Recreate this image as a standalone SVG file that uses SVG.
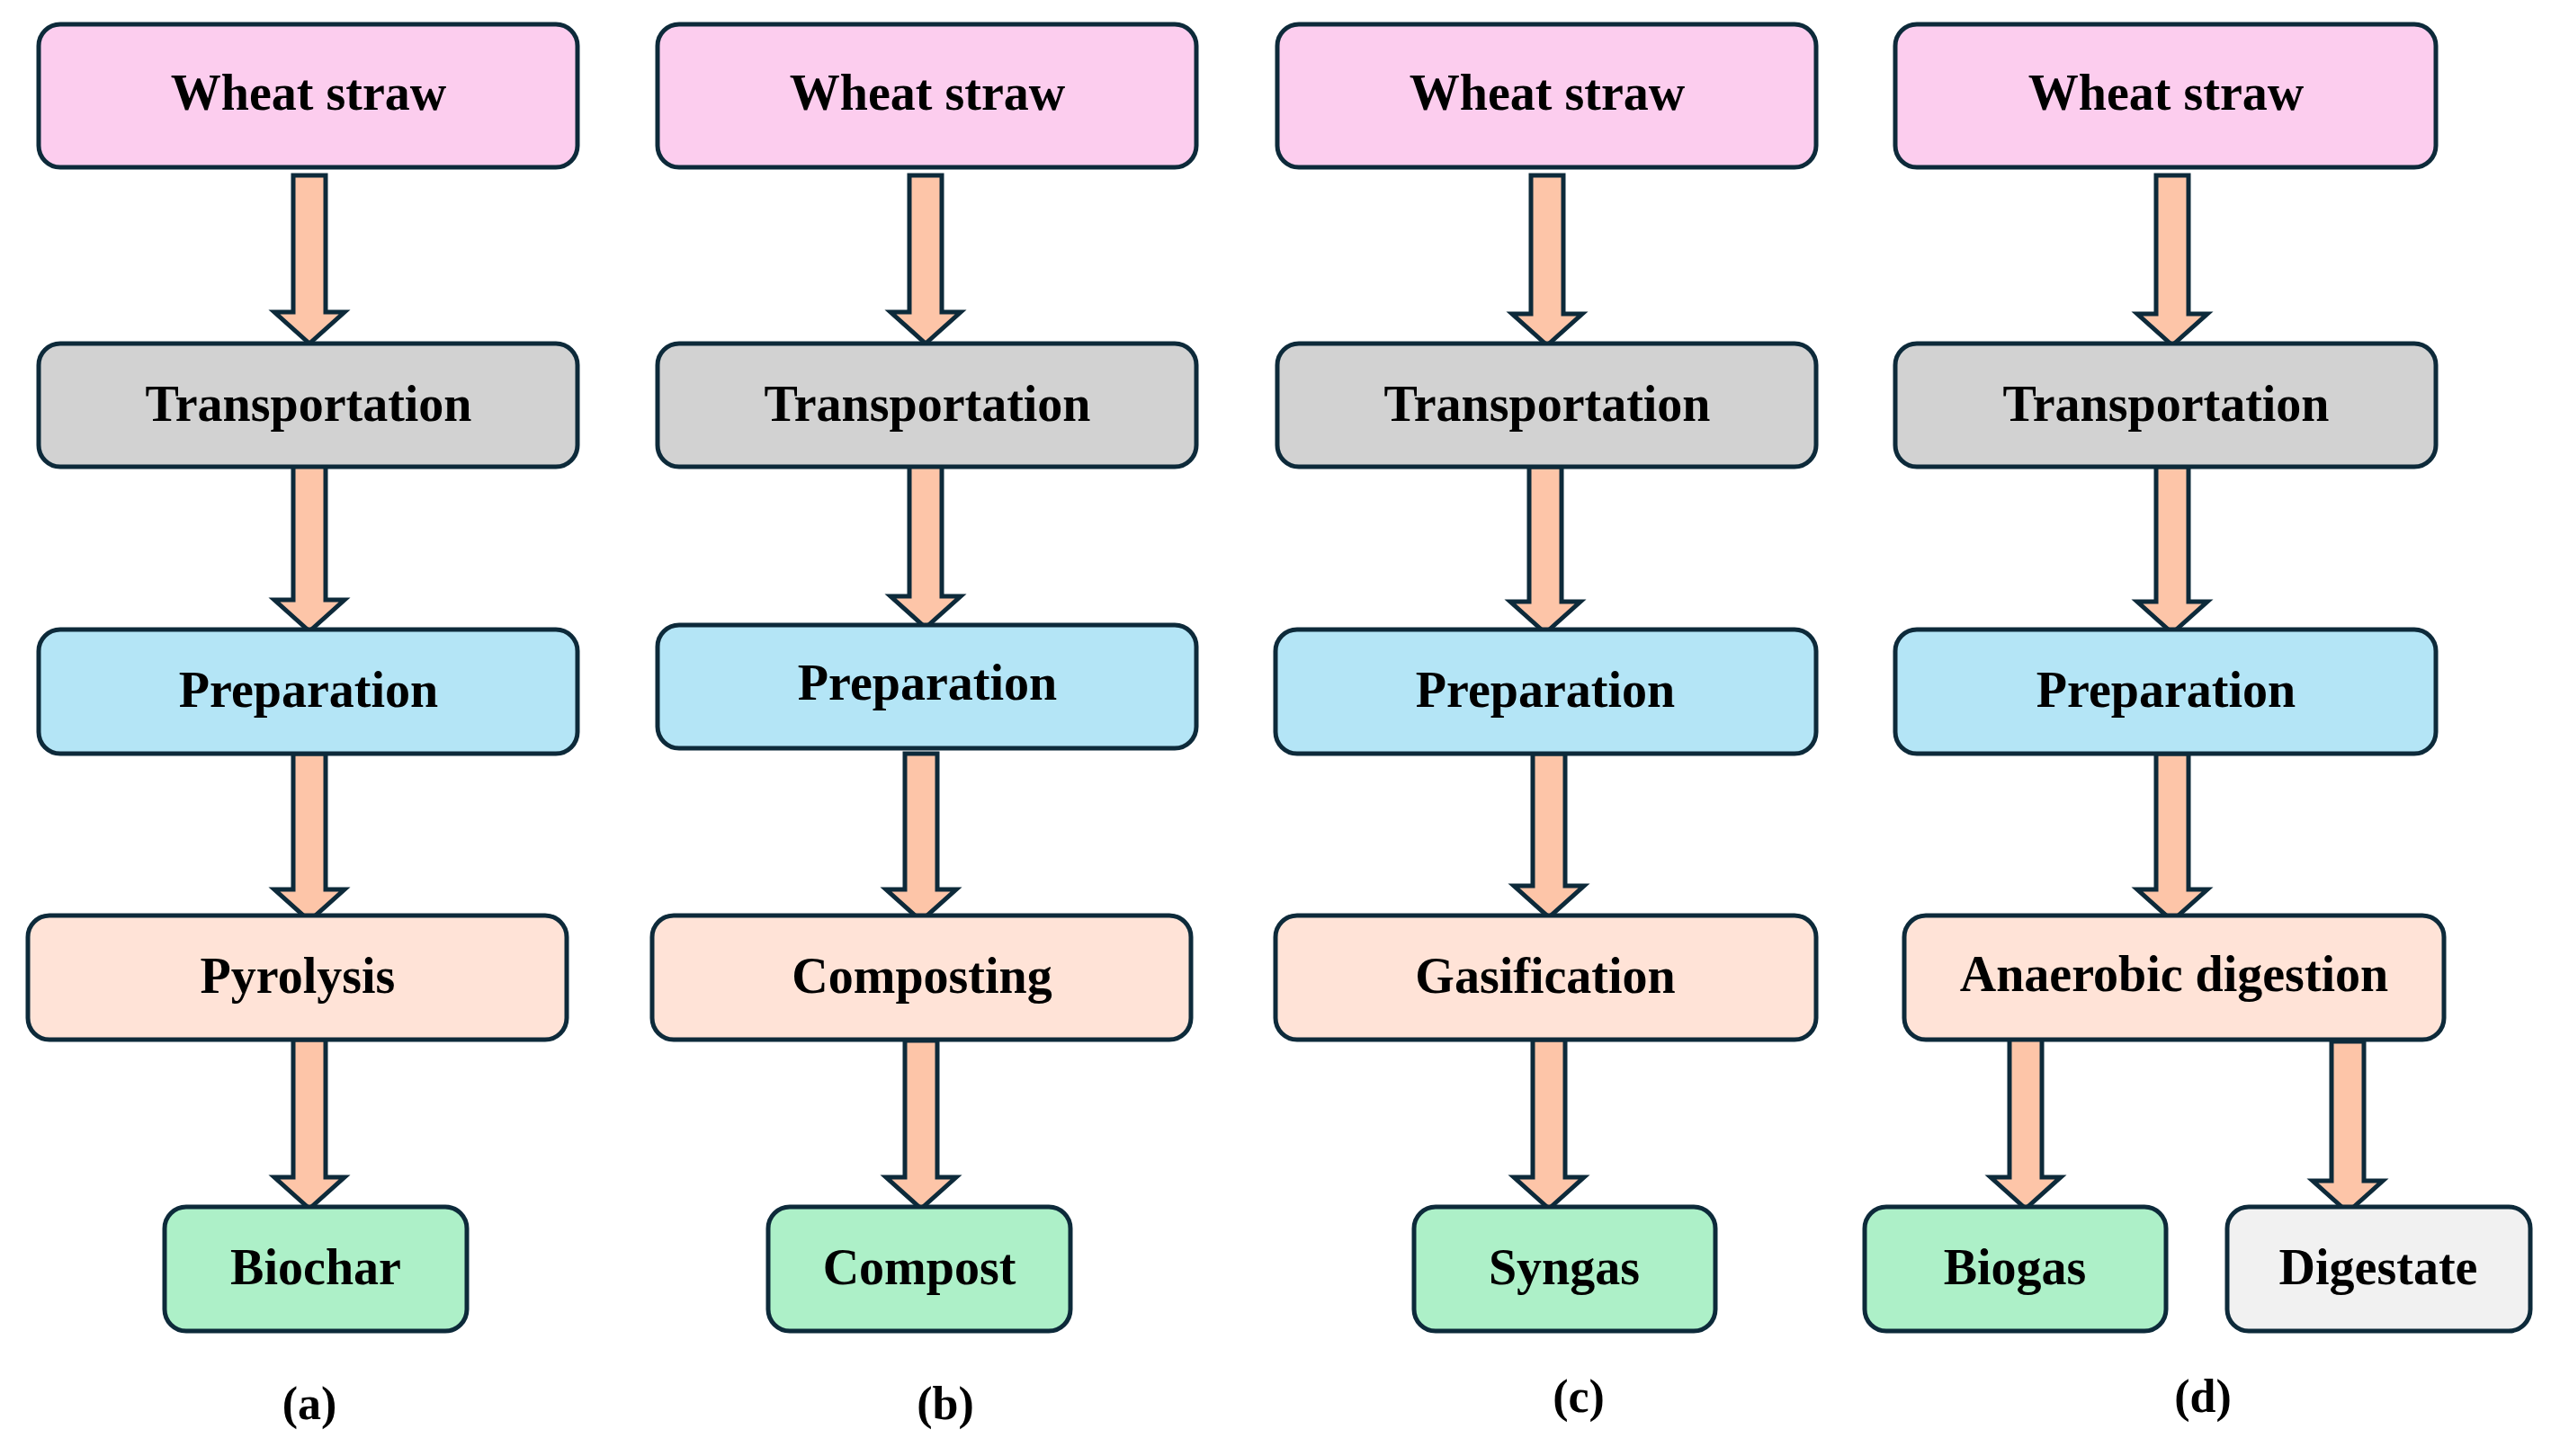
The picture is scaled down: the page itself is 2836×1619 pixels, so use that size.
<svg xmlns="http://www.w3.org/2000/svg" width="2836" height="1619" viewBox="0 0 2836 1619">
<style>
.b{stroke:#0d2a3a;stroke-width:5}
.w{fill:#fccdee}.t{fill:#d2d2d2}.p{fill:#b4e5f6}.o{fill:#ffe3d7}.g{fill:#adf0c8}.d{fill:#f1f1f1}
text{font-family:"Liberation Serif","Times New Roman",serif;font-weight:bold;font-size:56px;text-anchor:middle;fill:#000}
.lab{font-size:52px}
.ar{fill:#fdc5a8;stroke:#0d2a3a;stroke-width:5;stroke-linejoin:miter}
</style>
<g id="connectors">
<path class="ar" d="M326,195H362V347H383L344,382L305,347H326Z"/>
<path class="ar" d="M326,516H362V667H383L344,702L305,667H326Z"/>
<path class="ar" d="M326,838H362V989H383L344,1024L305,989H326Z"/>
<path class="ar" d="M326,1156H362V1309H383L344,1344L305,1309H326Z"/>
<path class="ar" d="M1011,195H1047V347H1068L1029,382L990,347H1011Z"/>
<path class="ar" d="M1011,516H1047V663H1068L1029,698L990,663H1011Z"/>
<path class="ar" d="M1006,838H1042V989H1063L1024,1024L985,989H1006Z"/>
<path class="ar" d="M1006,1157H1042V1309H1063L1024,1344L985,1309H1006Z"/>
<path class="ar" d="M1702,195H1738V349H1759L1720,384L1681,349H1702Z"/>
<path class="ar" d="M1700,519H1736V669H1757L1718,704L1679,669H1700Z"/>
<path class="ar" d="M1704,838H1740V985H1761L1722,1020L1683,985H1704Z"/>
<path class="ar" d="M1704,1156H1740V1309H1761L1722,1344L1683,1309H1704Z"/>
<path class="ar" d="M2397,195H2433V349H2454L2415,384L2376,349H2397Z"/>
<path class="ar" d="M2397,519H2433V669H2454L2415,704L2376,669H2397Z"/>
<path class="ar" d="M2397,838H2433V989H2454L2415,1024L2376,989H2397Z"/>
<path class="ar" d="M2234,1152H2270V1309H2291L2252,1344L2213,1309H2234Z"/>
<path class="ar" d="M2592,1158H2628V1313H2649L2610,1348L2571,1313H2592Z"/>
</g>
<g id="a_wheat"><rect class="b w" x="43" y="27" width="599" height="159" rx="24"/><text x="343" y="122">Wheat straw</text></g>
<g id="a_transport"><rect class="b t" x="43" y="382" width="599" height="137" rx="24"/><text x="343" y="468">Transportation</text></g>
<g id="a_prep"><rect class="b p" x="43" y="700" width="599" height="138" rx="24"/><text x="343" y="786">Preparation</text></g>
<g id="a_pyro"><rect class="b o" x="31" y="1018" width="599" height="138" rx="24"/><text x="331" y="1104">Pyrolysis</text></g>
<g id="a_biochar"><rect class="b g" x="183" y="1342" width="336" height="138" rx="24"/><text x="351" y="1428">Biochar</text></g>
<text class="lab" x="344" y="1578">(a)</text>

<g id="b_wheat"><rect class="b w" x="731" y="27" width="599" height="159" rx="24"/><text x="1031" y="122">Wheat straw</text></g>
<g id="b_transport"><rect class="b t" x="731" y="382" width="599" height="137" rx="24"/><text x="1031" y="468">Transportation</text></g>
<g id="b_prep"><rect class="b p" x="731" y="695" width="599" height="137" rx="24"/><text x="1031" y="778">Preparation</text></g>
<g id="b_compost_proc"><rect class="b o" x="725" y="1018" width="599" height="138" rx="24"/><text x="1025" y="1104">Composting</text></g>
<g id="b_compost"><rect class="b g" x="854" y="1342" width="336" height="138" rx="24"/><text x="1022" y="1428">Compost</text></g>
<text class="lab" x="1051" y="1578">(b)</text>

<g id="c_wheat"><rect class="b w" x="1420" y="27" width="599" height="159" rx="24"/><text x="1720" y="122">Wheat straw</text></g>
<g id="c_transport"><rect class="b t" x="1420" y="382" width="599" height="137" rx="24"/><text x="1720" y="468">Transportation</text></g>
<g id="c_prep"><rect class="b p" x="1418" y="700" width="601" height="138" rx="24"/><text x="1718" y="786">Preparation</text></g>
<g id="c_gasif"><rect class="b o" x="1418" y="1018" width="601" height="138" rx="24"/><text x="1718" y="1104">Gasification</text></g>
<g id="c_syngas"><rect class="b g" x="1572" y="1342" width="335" height="138" rx="24"/><text x="1739" y="1428">Syngas</text></g>
<text class="lab" x="1755" y="1570">(c)</text>

<g id="d_wheat"><rect class="b w" x="2107" y="27" width="601" height="159" rx="24"/><text x="2408" y="122">Wheat straw</text></g>
<g id="d_transport"><rect class="b t" x="2107" y="382" width="601" height="137" rx="24"/><text x="2408" y="468">Transportation</text></g>
<g id="d_prep"><rect class="b p" x="2107" y="700" width="601" height="138" rx="24"/><text x="2408" y="786">Preparation</text></g>
<g id="d_ad"><rect class="b o" x="2117" y="1018" width="600" height="138" rx="24"/><text x="2417" y="1102">Anaerobic digestion</text></g>
<g id="d_biogas"><rect class="b g" x="2073" y="1342" width="335" height="138" rx="24"/><text x="2240" y="1428">Biogas</text></g>
<g id="d_digestate"><rect class="b d" x="2476" y="1342" width="337" height="138" rx="24"/><text x="2644" y="1428">Digestate</text></g>
<text class="lab" x="2449" y="1570">(d)</text>
</svg>
